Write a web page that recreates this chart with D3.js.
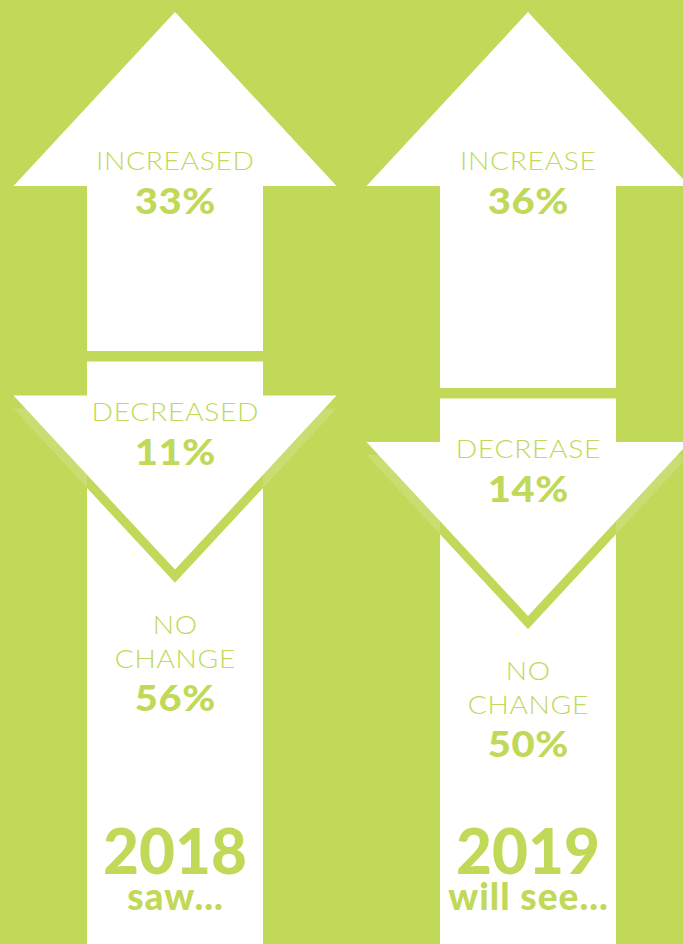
<!DOCTYPE html>
<html>
<head>
<meta charset="utf-8">
<script src="https://cdn.jsdelivr.net/npm/d3@7"></script>
<style>
  html, body { margin: 0; padding: 0; background: #c1d958; }
  svg { display: block; }
</style>
</head>
<body>
<div id="chart"></div>
<script>
// Survey results: share of respondents reporting each outcome
const years = ["2018", "2019"];
const captions = ["saw...", "will see..."];
const increaseLabels = ["INCREASED", "INCREASE"];
const decreaseLabels = ["DECREASED", "DECREASE"];
const noChangeLabel = ["NO", "CHANGE"];
const increase = [33, 36];
const decrease = [11, 14];
const noChange = [56, 50];

const W = 683, H = 944;
const GREEN = "#c1d958";
const BAND = "#c9de72";
const WHITE = "#ffffff";

const svg = d3.select("#chart").append("svg")
  .attr("width", W).attr("height", H);

svg.append("rect").attr("width", W).attr("height", H).attr("fill", GREEN);

// column centres
const x = d3.scalePoint().domain(years).range([175, 528]);
// bottom of the "up" arrow shaft, driven by the increase share
const yUp = d3.scaleLinear().domain([30, 40]).range([314, 437.3]);
// length of the "down" arrow shaft, driven by the decrease share
const downLen = d3.scaleLinear().domain([0, 20]).range([0, 62]);

const headTop = 12, headBase = 186, headH = 174;
const halfHead = 161.5, halfShaft = 88;
const gap = 10.5, shadowOff = 13;

const line = d3.line();

const cols = years.map((year, i) => {
  const cx = x(year);
  const upBottom = yUp(increase[i]);
  const downTop = upBottom + gap;
  const downBase = downTop + downLen(decrease[i]);
  const downTip = downBase + headH;
  return { i, year, cx, upBottom, downTop, downBase, downTip };
});

const defs = svg.append("defs");
cols.forEach(c => {
  defs.append("clipPath").attr("id", "col" + c.i)
    .append("rect")
    .attr("x", c.cx - halfShaft).attr("y", c.downTop)
    .attr("width", halfShaft * 2).attr("height", H - c.downTop);
});

const g = svg.append("g");

cols.forEach(c => {
  const { cx } = c;
  // up arrow
  g.append("path")
    .attr("d", line([
      [cx, headTop], [cx + halfHead, headBase], [cx + halfShaft, headBase],
      [cx + halfShaft, c.upBottom], [cx - halfShaft, c.upBottom],
      [cx - halfShaft, headBase], [cx - halfHead, headBase]
    ]) + "Z")
    .attr("fill", WHITE);

  // column holding the down arrow and the "no change" share
  g.append("rect")
    .attr("x", cx - halfShaft).attr("y", c.downTop)
    .attr("width", halfShaft * 2).attr("height", H - c.downTop)
    .attr("fill", WHITE);

  // offset band under the down arrow head
  const shadow = line([
    [cx - halfHead, c.downBase + shadowOff],
    [cx + halfHead, c.downBase + shadowOff],
    [cx, c.downTip + shadowOff]
  ]) + "Z";
  g.append("path").attr("d", shadow).attr("fill", BAND);
  g.append("path").attr("d", shadow).attr("fill", GREEN)
    .attr("clip-path", "url(#col" + c.i + ")");

  // down arrow head
  g.append("path")
    .attr("d", line([
      [cx - halfHead, c.downBase], [cx + halfHead, c.downBase], [cx, c.downTip]
    ]) + "Z")
    .attr("fill", WHITE);
});

// text: wide geometric look by stretching glyphs horizontally
const FONT = "'Lato', 'Open Sans', sans-serif";

function label(lines, cx, y) {
  const t = g.append("text")
    .attr("transform", `translate(${cx},${y}) scale(1.13,1)`)
    .attr("text-anchor", "middle")
    .attr("fill", GREEN)
    .style("font-family", FONT).style("font-weight", 300)
    .style("font-size", "25px").style("letter-spacing", "0.6px");
  [].concat(lines).forEach((s, k) => {
    t.append("tspan").attr("x", 0.3).attr("y", k * 34).text(s);
  });
  return t;
}
function value(v, cx, y) {
  return g.append("text")
    .attr("transform", `translate(${cx},${y}) scale(1.08,1)`)
    .attr("x", 0.3)
    .attr("text-anchor", "middle")
    .attr("fill", GREEN)
    .style("font-family", FONT).style("font-weight", 900)
    .style("font-size", "37px").style("letter-spacing", "0.6px")
    .text(v + "%");
}

cols.forEach(c => {
  const { i, cx } = c;
  label(increaseLabels[i], cx, headBase - 16.5);
  value(increase[i], cx, headBase + 27.5);

  label(decreaseLabels[i], cx, c.downTop + 59.5);
  value(decrease[i], cx, c.downTop + 103.5);

  const nc = c.downTip + 64;
  label(noChangeLabel, cx, nc);
  value(noChange[i], cx, nc + 77);

  // year and caption as one two-line title
  const title = g.append("text")
    .attr("text-anchor", "middle").attr("fill", GREEN)
    .style("font-family", FONT).style("font-weight", 900);
  title.append("tspan").attr("x", cx).attr("y", 874)
    .style("font-size", "62px").text(c.year);
  title.append("tspan").attr("x", cx + 0.5).attr("y", 910)
    .style("font-size", "37px").style("letter-spacing", "1px").text(captions[i]);
});
</script>
</body>
</html>
